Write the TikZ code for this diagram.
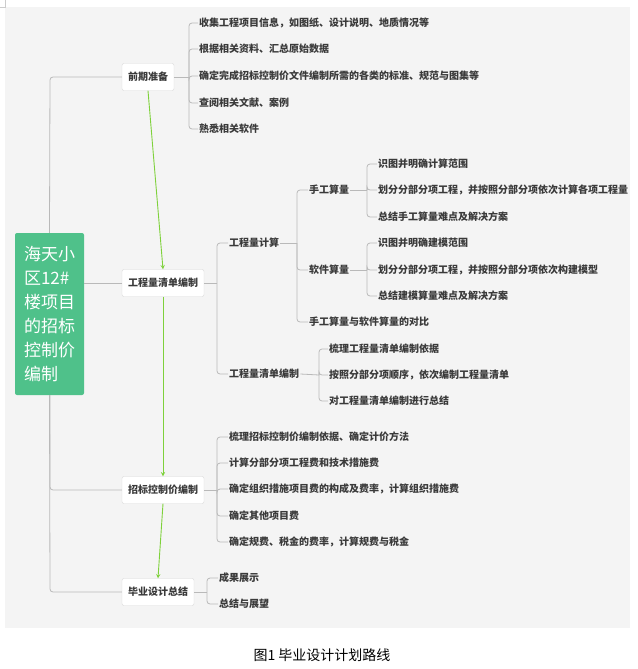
\documentclass[tikz,border=0pt]{standalone}
\usepackage{fontspec}
\setmainfont{Noto Sans CJK SC}
\usetikzlibrary{positioning}
\definecolor{rootgreen}{HTML}{4FC18A}
\definecolor{bggray}{HTML}{F4F4F4}
\definecolor{txtgray}{HTML}{3A3A3A}
\definecolor{arrowgreen}{HTML}{7ED13B}
\tikzset{
  topic/.style={draw=gray!30, fill=white, rounded corners=2pt, font=\fontsize{10}{12}\selectfont\bfseries,
    text=txtgray, inner xsep=6pt, minimum height=27pt},
  leaf/.style={anchor=west, inner sep=1pt, font=\fontsize{10}{12}\selectfont\bfseries, text=txtgray},
  branch/.style={draw=gray!55, line width=0.8pt, rounded corners=3pt},
  flow/.style={draw=arrowgreen, line width=0.9pt, ->, >=stealth}
}
\begin{document}
\begin{tikzpicture}[x=1pt,y=-1pt]
    \useasboundingbox (0,0) rectangle (637,669);
    \fill[bggray] (5,7) rectangle (630,628);
    \draw[gray!40] (5,0) -- (5,7) -- (0,7);

    % root
    \node[fill=rootgreen, rounded corners=2pt, text=white, minimum width=69pt, minimum height=162pt,
      align=left, font=\fontsize{17}{24}\selectfont] (root) at (49.5,314) {海天小\\区12\#\\楼项目\\的招标\\控制价\\编制};

    % main topics
    \node[topic] (prep) at (148,77) {前期准备};
    \node[topic] (qty) at (163,283) {工程量清单编制};
    \node[topic] (bid) at (163,490) {招标控制价编制};
    \node[topic] (sum) at (158,592) {毕业设计总结};

    \draw[branch] (root.north) -- (50,77) -- (prep.west);
    \draw[branch] (root.south) -- (50,592) -- (sum.west);
    \draw[branch] (root.east |- qty) -- (qty.west);
    \draw[branch] (50,395) |- (bid.west);

    \draw[flow] (prep.south) -- (qty.north);
    \draw[flow] (qty.south) -- (bid.north);
    \draw[flow] (bid.south) -- (sum.north);

    % leaves of prep
    \node[leaf] (p1) at (198,23) {收集工程项目信息，如图纸、设计说明、地质情况等};
    \node[leaf] (p2) at (198,49) {根据相关资料、汇总原始数据};
    \node[leaf] (p3) at (198,76) {确定完成招标控制价文件编制所需的各类的标准、规范与图集等};
    \node[leaf] (p4) at (198,103) {查阅相关文献、案例};
    \node[leaf] (p5) at (198,129) {熟悉相关软件};
    \draw[branch] (prep.east) -- (189,77);
    \foreach \n in {p1,p2,p3,p4,p5}
      \draw[branch] (189,77) |- (\n.west);

    % qty
    \node[leaf] (q1) at (228,243) {工程量计算};
    \node[leaf] (q2) at (228,374) {工程量清单编制};
    \draw[branch] (qty.east) -- (217,283);
    \foreach \n in {q1,q2}
      \draw[branch] (217,283) |- (\n.west);

    \node[leaf] (c1) at (308,190) {手工算量};
    \node[leaf] (c2) at (308,270) {软件算量};
    \node[leaf] (c3) at (308,322) {手工算量与软件算量的对比};
    \draw[branch] (q1.east) -- (297,243);
    \foreach \n in {c1,c2,c3}
      \draw[branch] (297,243) |- (\n.west);

    \node[leaf] (h1) at (377,164) {识图并明确计算范围};
    \node[leaf] (h2) at (377,190) {划分分部分项工程，并按照分部分项依次计算各项工程量};
    \node[leaf] (h3) at (377,217) {总结手工算量难点及解决方案};
    \draw[branch] (c1.east) -- (367,190);
    \foreach \n in {h1,h2,h3}
      \draw[branch] (367,190) |- (\n.west);

    \node[leaf] (s1) at (377,243) {识图并明确建模范围};
    \node[leaf] (s2) at (377,270) {划分分部分项工程，并按照分部分项依次构建模型};
    \node[leaf] (s3) at (377,296) {总结建模算量难点及解决方案};
    \draw[branch] (c2.east) -- (367,270);
    \foreach \n in {s1,s2,s3}
      \draw[branch] (367,270) |- (\n.west);

    \node[leaf] (l1) at (328,349) {梳理工程量清单编制依据};
    \node[leaf] (l2) at (328,375) {按照分部分项顺序，依次编制工程量清单};
    \node[leaf] (l3) at (328,401) {对工程量清单编制进行总结};
    \draw[branch] (q2.east) -- (319,375);
    \foreach \n in {l1,l2,l3}
      \draw[branch] (319,375) |- (\n.west);

    % bid
    \node[leaf] (b1) at (228,437) {梳理招标控制价编制依据、确定计价方法};
    \node[leaf] (b2) at (228,463) {计算分部分项工程费和技术措施费};
    \node[leaf] (b3) at (228,489) {确定组织措施项目费的构成及费率，计算组织措施费};
    \node[leaf] (b4) at (228,516) {确定其他项目费};
    \node[leaf] (b5) at (228,542) {确定规费、税金的费率，计算规费与税金};
    \draw[branch] (bid.east) -- (217,490);
    \foreach \n in {b1,b2,b3,b4,b5}
      \draw[branch] (217,490) |- (\n.west);

    % summary
    \node[leaf] (r1) at (218,578) {成果展示};
    \node[leaf] (r2) at (218,604) {总结与展望};
    \draw[branch] (sum.east) -- (207,592);
    \foreach \n in {r1,r2}
      \draw[branch] (207,592) |- (\n.west);

    \node[font=\fontsize{14}{16}\selectfont] (cap) at (322,655) {图1\ 毕业设计计划路线};
\end{tikzpicture}
\end{document}
